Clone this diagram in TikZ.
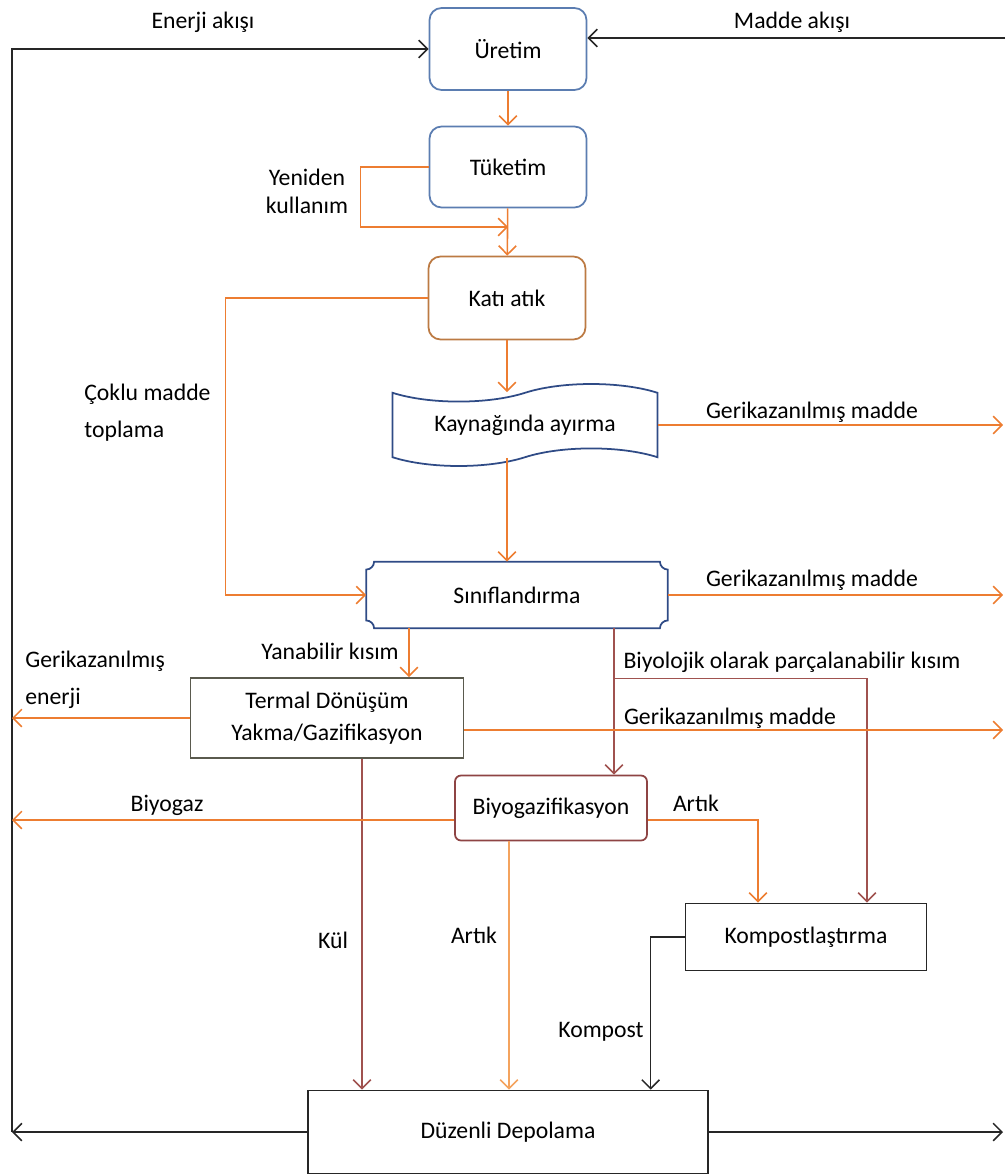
\documentclass[tikz,border=0pt]{standalone}
\usepackage{fontspec}
\setmainfont{Carlito}
\usetikzlibrary{arrows.meta,calc,shapes.symbols}
\definecolor{turuncu}{HTML}{ED7D31}
\definecolor{acikturuncu}{HTML}{F4A35E}
\definecolor{kahve}{HTML}{A0524F}
\definecolor{kutumavi}{HTML}{5B7DB1}
\definecolor{lacivert}{HTML}{2F4B86}
\definecolor{katikahve}{HTML}{BC7A43}
\definecolor{biyokahve}{HTML}{8E4444}
\definecolor{gri}{HTML}{5A5A4E}
\definecolor{siyah}{HTML}{262626}

\begin{document}
\begin{tikzpicture}[x=0.02cm, y=-0.02cm, font=\fontsize{13.5}{16}\selectfont,
	>={Straight Barb[length=5pt,width=10pt]},
	kutu/.style={draw=kutumavi, line width=1pt, minimum width=3.14cm, minimum height=1.64cm, rounded corners=0.24cm},
	duzkutu/.style={draw=#1, line width=1pt},
	etiket/.style={inner sep=0pt},
	tur/.style={turuncu, line width=0.9pt},
	kah/.style={kahve, line width=0.9pt},
	siy/.style={siyah, line width=0.9pt}]
	\useasboundingbox (0,0) rectangle (1005,1176);

	% Kutular
	\node[kutu] (uretim) at (508,49) {Üretim};
	\node[kutu, minimum height=1.62cm] (tuketim) at (508,167) {Tüketim};
	\node[kutu, draw=katikahve, minimum height=1.66cm] (kati) at (507,298) {Katı atık};
	\node[tape, draw=lacivert, line width=1pt, tape bend height=10pt,
		minimum width=5.3cm, minimum height=1.64cm] (kaynak) at (525,425) {Kaynağında ayırma};
	\node[minimum width=6.02cm, minimum height=1.32cm, inner sep=0pt] (sinif) at (517,595) {Sınıflandırma};
	\draw[lacivert, line width=1pt] ([xshift=4.5pt]sinif.north west) -- ([xshift=-4.5pt]sinif.north east)
		arc (180:270:4.5pt) -- ([yshift=4.5pt]sinif.south east)
		arc (90:180:4.5pt) -- ([xshift=4.5pt]sinif.south west)
		arc (0:90:4.5pt) -- ([yshift=-4.5pt]sinif.north west)
		arc (270:360:4.5pt) -- cycle;
	\node[duzkutu=gri, minimum width=5.46cm, minimum height=1.6cm, align=center] (termal) at (327,718)
		{Termal Dönüşüm\\[2pt]Yakma/Gazifikasyon};
	\node[duzkutu=biyokahve, rounded corners=0.12cm, minimum width=3.84cm, minimum height=1.3cm] (biyo) at (551,808) {Biyogazifikasyon};
	\node[duzkutu=siyah, minimum width=4.82cm, minimum height=1.34cm] (kompost) at (806,937) {Kompostlaştırma};
	\node[duzkutu=siyah, minimum width=8cm, minimum height=1.66cm] (depo) at (508,1132) {Düzenli Depolama};

	% Cerceve
	\coordinate (sol) at (12,1132);
	\coordinate (madde) at (1005,38);
	\draw[siy, ->] (depo.west) -- (sol);
	\draw[siy, ->] (sol) |- (uretim.west);
	\draw[siy, ->] (madde) -- (madde -| uretim.east);
	\draw[siy, ->] (depo.east) -- (1003,1132);
	\node[etiket] (enerjiakis) at (203,22) {Enerji akışı};
	\node[etiket] (maddeakis) at (792,22) {Madde akışı};

	% Akis
	\draw[tur, ->] (uretim) -- (tuketim);
	\draw[tur, ->] (tuketim) -- (kati);
	\coordinate (yeniden) at (508,227);
	\draw[tur, ->] (tuketim.west) -- ++(-68,0) |- (yeniden);
	\node[etiket, align=center] (yenidenlbl) at (307,191) {Yeniden\\kullanım};
	\draw[tur, ->] (kati.south) -- (kati.south |- kaynak.north);
	\draw[tur, ->] (kati.west) -- ++(-202,0) |- (sinif.west);
	\node[etiket, align=left, anchor=west] (coklu) at (84,413) {Çoklu madde\\[5pt]toplama};
	\draw[tur, ->] (kati.south |- kaynak.south) -- (kati.south |- sinif.north);
	\draw[tur, ->] (kaynak.east) -- (1003,425);
	\node[etiket] (geri1) at (812,412) {Gerikazanılmış madde};
	\draw[tur, ->] (sinif.east) -- (1003,595);
	\node[etiket] (geri2) at (812,580) {Gerikazanılmış madde};

	% Ayrisma
	\coordinate (yan) at ($(sinif.south)+(-108,0)$);
	\draw[tur, ->] (yan) -- (yan |- termal.north);
	\node[etiket] (yanabilir) at (330,651) {Yanabilir kısım};
	\coordinate (biyol) at ($(sinif.south)+(97,0)$);
	\coordinate (dal) at ($(sinif.south)+(97,50)$);
	\coordinate (kompustu) at ($(kompost.north)+(61,0)$);
	\draw[kah, ->] (biyol) -- (biyol |- biyo.north);
	\draw[kah, ->] (dal) -| (kompustu);
	\node[etiket] (biyolojik) at (792,662) {Biyolojik olarak parçalanabilir kısım};

	\draw[tur, ->] (termal.west) -- (termal.west -| sol);
	\node[etiket, align=left, anchor=west] (enerji) at (25,680) {Gerikazanılmış\\[5pt]enerji};
	\coordinate (termsag) at ($(termal.east)+(0,12)$);
	\draw[tur, ->] (termsag) -- (1003,730);
	\node[etiket] (geri3) at (730,718) {Gerikazanılmış madde};
	\coordinate (kul) at ($(termal.south)+(35,0)$);
	\draw[kah, ->] (kul) -- (kul |- depo.north);
	\node[etiket] (kullbl) at (333,940) {Kül};

	\coordinate (biyosol) at ($(biyo.west)+(0,12)$);
	\coordinate (biyosag) at ($(biyo.east)+(0,12)$);
	\coordinate (biyoalt) at ($(biyo.south)+(-42,0)$);
	\coordinate (artikust) at ($(kompost.north)+(-48,0)$);
	\draw[tur, ->] (biyosol) -- (biyosol -| sol);
	\node[etiket] (biyogaz) at (167,805) {Biyogaz};
	\draw[tur, ->] (biyosag) -| (artikust);
	\node[etiket] (artik1) at (696,803) {Artık};
	\draw[acikturuncu, line width=0.9pt, ->] (biyoalt) -- (biyoalt |- depo.north);
	\node[etiket] (artik2) at (474,935) {Artık};
	\coordinate (kompdon) at ($(kompost.west)+(-34,0)$);
	\draw[siy, ->] (kompost.west) -- (kompdon) -- (kompdon |- depo.north);
	\node[etiket] (kompostlbl) at (601,1032) {Kompost};
\end{tikzpicture}
\end{document}
